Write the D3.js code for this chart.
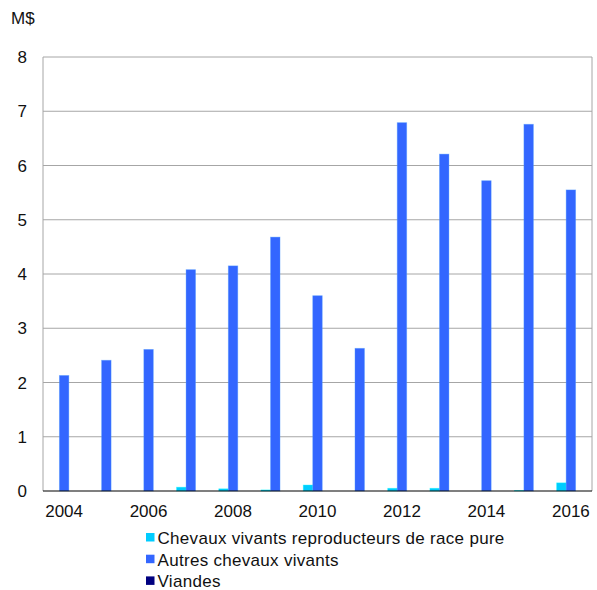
<!DOCTYPE html>
<html>
<head>
<meta charset="utf-8">
<script src="https://cdn.jsdelivr.net/npm/d3@7"></script>
<style>
  body { margin: 0; background: #fff; }
  svg text { font-family: "Liberation Sans", Arial, sans-serif; fill: #111; }
</style>
</head>
<body>
<svg id="chart" width="597" height="590"></svg>
<script>
// années et valeurs (M$)
const years = ['2004','2005','2006','2007','2008','2009','2010','2011','2012','2013','2014','2015','2016'];
const chevauxRacePure = [0, 0, 0, 0.07, 0.04, 0.02, 0.11, 0, 0.05, 0.05, 0, 0.01, 0.15];
const autresChevaux = [2.13, 2.41, 2.61, 4.08, 4.15, 4.68, 3.60, 2.63, 6.79, 6.21, 5.72, 6.76, 5.55];
const viandes = [0, 0, 0, 0, 0, 0, 0, 0, 0, 0, 0, 0, 0];
const yTicks = [0, 1, 2, 3, 4, 5, 6, 7, 8];
const xLabels = ['2004','2006','2008','2010','2012','2014','2016'];

const series = [
  { name: 'Chevaux vivants reproducteurs de race pure', values: chevauxRacePure, color: '#00ccff' },
  { name: 'Autres chevaux vivants', values: autresChevaux, color: '#3366ff' },
  { name: 'Viandes', values: viandes, color: '#000080' }
];

const margin = { left: 43, right: 5, top: 57, bottom: 99 };
const width = 597 - margin.left - margin.right;
const height = 590 - margin.top - margin.bottom;

const svg = d3.select('#chart');
const g = svg.append('g').attr('transform', `translate(${margin.left},${margin.top})`);

const x = d3.scaleBand().domain(years).range([0, width]);
const y = d3.scaleLinear().domain([0, 8]).range([height, 0]);
const groupW = x.bandwidth() * 0.675;
const xs = d3.scaleBand().domain(series.map(s => s.name)).range([0, groupW]);

// grille
g.selectAll('.grid')
  .data(yTicks.filter(t => t > 0))
  .enter().append('line')
    .attr('x1', 0).attr('x2', width)
    .attr('y1', d => y(d)).attr('y2', d => y(d))
    .attr('stroke', '#a6a6a6').attr('stroke-width', 1);

// cadre gauche / droite
g.append('line').attr('x1', 0).attr('x2', 0).attr('y1', 0).attr('y2', height)
  .attr('stroke', '#a6a6a6');
g.append('line').attr('x1', width).attr('x2', width).attr('y1', 0).attr('y2', height)
  .attr('stroke', '#a6a6a6');

// barres
series.forEach(s => {
  g.selectAll(null)
    .data(years.map((yr, i) => ({ yr, v: s.values[i] })))
    .enter().append('rect')
      .attr('x', d => x(d.yr) + (x.bandwidth() - groupW) / 2 + xs(s.name))
      .attr('width', xs.bandwidth())
      .attr('y', d => y(d.v))
      .attr('height', d => height - y(d.v))
      .attr('fill', s.color)
      .attr('stroke', d => d.v > 0 ? d3.color(s.color).brighter(1.2) : 'none')
      .attr('stroke-opacity', 0.45)
      .attr('stroke-width', 0.8);
});

// axe x
g.append('line').attr('x1', 0).attr('x2', width).attr('y1', height).attr('y2', height)
  .attr('stroke', '#000').attr('stroke-width', 1.2);

g.selectAll('.xlab')
  .data(xLabels)
  .enter().append('text')
    .attr('x', d => x(d) + x.bandwidth() / 2)
    .attr('y', height + 26)
    .attr('text-anchor', 'middle')
    .style('font-size', '17px')
    .text(d => d);

// axe y
g.selectAll('.ylab')
  .data(yTicks)
  .enter().append('text')
    .attr('x', -16)
    .attr('y', d => y(d) + 6)
    .attr('text-anchor', 'end')
    .style('font-size', '17px')
    .text(d => d);

svg.append('text').attr('x', 11).attr('y', 24).style('font-size', '17px').text('M$');

// légende
const legend = svg.append('g').attr('transform', 'translate(146,538)');
series.forEach((s, i) => {
  const row = legend.append('g').attr('transform', `translate(0,${i * 21.7})`);
  row.append('rect').attr('x', 0).attr('y', -5).attr('width', 8.5).attr('height', 8.5).attr('fill', s.color);
  row.append('text').attr('x', 11.5).attr('y', 6)
    .style('font-size', '17px').style('letter-spacing', '0.3px')
    .text(s.name);
});
</script>
</body>
</html>
